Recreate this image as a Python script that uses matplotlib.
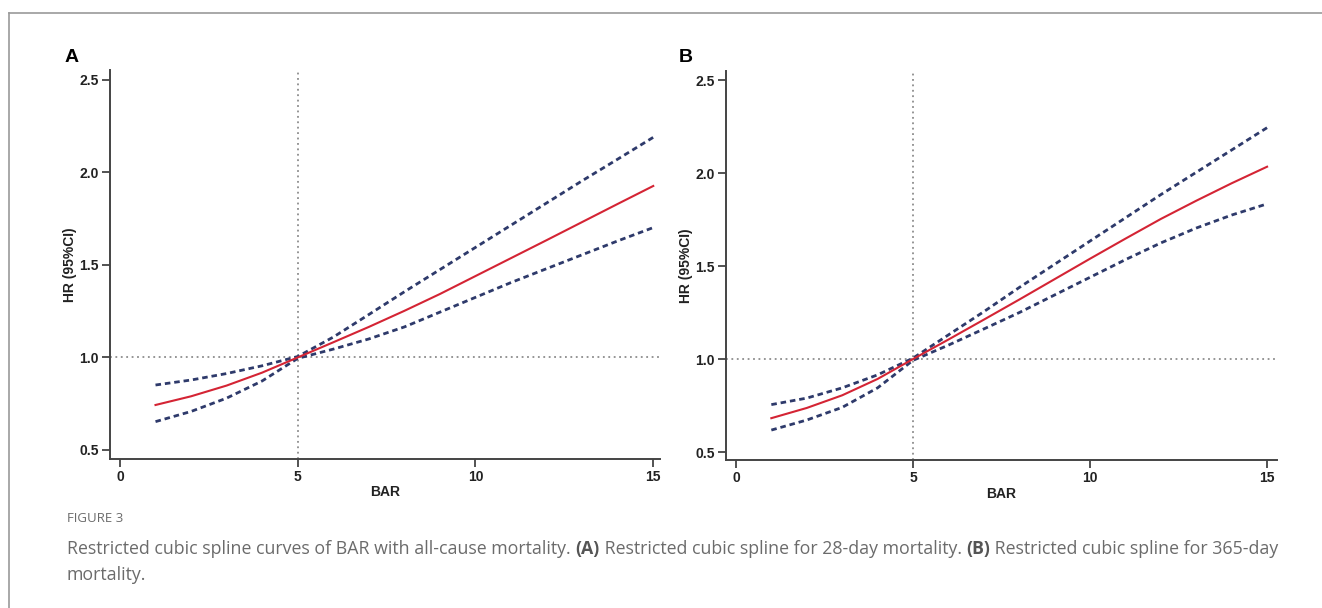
import matplotlib
matplotlib.use('Agg')
import matplotlib.pyplot as plt
from matplotlib.lines import Line2D

# values
bar = [1, 2, 3, 4, 5, 6, 7, 8, 9, 10, 11, 12, 13, 14, 15]

a_hr = [0.743, 0.79, 0.848, 0.918, 1.0, 1.082, 1.165, 1.252, 1.343, 1.44, 1.537, 1.634, 1.732, 1.83, 1.927]
a_hi = [0.851, 0.878, 0.913, 0.955, 1.005, 1.11, 1.232, 1.355, 1.475, 1.595, 1.715, 1.835, 1.955, 2.072, 2.19]
a_lo = [0.653, 0.708, 0.78, 0.873, 0.995, 1.045, 1.1, 1.165, 1.245, 1.325, 1.405, 1.48, 1.555, 1.63, 1.702]

b_hr = [0.682, 0.737, 0.805, 0.893, 1.0, 1.105, 1.212, 1.32, 1.43, 1.54, 1.648, 1.754, 1.852, 1.946, 2.035]
b_hi = [0.755, 0.79, 0.845, 0.915, 1.005, 1.13, 1.255, 1.385, 1.51, 1.635, 1.76, 1.885, 2.005, 2.125, 2.245]
b_lo = [0.618, 0.672, 0.74, 0.845, 0.993, 1.075, 1.162, 1.25, 1.345, 1.44, 1.535, 1.625, 1.705, 1.775, 1.835]

xticks = [0, 5, 10, 15]
yticks = [0.5, 1.0, 1.5, 2.0, 2.5]
ref_x = 5
ref_y = 1.0

W, H = 1322, 608
tick_font = ['Liberation Sans Narrow', 'Liberation Sans', 'DejaVu Sans']
cap_font = ['Open Sans', 'DejaVu Sans']

fig = plt.figure(figsize=(W / 100, H / 100), dpi=100)

# page frame (top and left rule)
fig.add_artist(Line2D([9 / W, 1], [1 - 13 / H, 1 - 13 / H], color='#9a9a9a', lw=1.2))
fig.add_artist(Line2D([9 / W, 9 / W], [0, 1 - 13 / H], color='#9a9a9a', lw=1.2))


def panel(rect, hr, lo, hi, xlim, ylim, letter, letter_x):
    ax = fig.add_axes([rect[0] / W, 1 - rect[3] / H, (rect[2] - rect[0]) / W, (rect[3] - rect[1]) / H])
    ax.axvline(ref_x, color='#8c8c8c', ls=(0, (1, 2)), lw=1.3, zorder=1)
    ax.axhline(ref_y, color='#8c8c8c', ls=(0, (1, 2)), lw=1.3, zorder=1)
    ax.plot(bar, hi, color='#2e3a6b', lw=2.0, ls=(0, (2, 1.4)), zorder=2)
    ax.plot(bar, lo, color='#2e3a6b', lw=2.0, ls=(0, (2, 1.4)), zorder=2)
    ax.plot(bar, hr, color='#d42434', lw=1.5, zorder=3)
    ax.set_xlim(*xlim)
    ax.set_ylim(*ylim)
    ax.set_xticks(xticks)
    ax.set_xticklabels([str(t) for t in xticks], family=tick_font, fontsize=10, fontweight='bold', color='#222222')
    ax.set_yticks(yticks)
    ax.set_yticklabels(['%.1f' % t for t in yticks], family=tick_font, fontsize=10, fontweight='bold', color='#222222')
    for s in ['top', 'right']:
        ax.spines[s].set_visible(False)
    for s in ['left', 'bottom']:
        ax.spines[s].set_color('#444444')
        ax.spines[s].set_linewidth(1.4)
    ax.tick_params(direction='out', length=6, width=1.3, color='#444444', pad=2)
    ax.set_xlabel('BAR', family=tick_font, fontsize=10, fontweight='bold', color='#222222', labelpad=1)
    ax.set_ylabel('HR (95%CI)', family=tick_font, fontsize=10, fontweight='bold', color='#222222', labelpad=2)
    fig.text(letter_x / W, 1 - 58 / H, letter, family=['Liberation Sans', 'DejaVu Sans'], fontsize=14,
             fontweight='bold', va='center', ha='left')
    return ax


panel((110, 70, 660, 459), a_hr, a_lo, a_hi, (-0.28, 15.19), (0.451, 2.554), 'A', 65)
panel((726, 71, 1277, 460), b_hr, b_lo, b_hi, (-0.28, 15.28), (0.457, 2.55), 'B', 679)

# caption
fig.text(67 / W, 1 - 518 / H, 'FIGURE 3', family=cap_font, fontsize=9.5, color='#6b6b6b', va='center')

renderer = fig.canvas.get_renderer()


def caption_line(parts, y_px):
    x = 67
    for txt, bold in parts:
        t = fig.text(x / W, 1 - y_px / H, txt, family=cap_font, fontsize=12.75,
                     fontweight='bold' if bold else 'normal',
                     color='#555555' if bold else '#6b6b6b', va='center', ha='left')
        bb = t.get_window_extent(renderer=renderer)
        x += bb.width


caption_line([('Restricted cubic spline curves of BAR with all-cause mortality. ', False),
              ('(A)', True),
              (' Restricted cubic spline for 28-day mortality. ', False),
              ('(B)', True),
              (' Restricted cubic spline for 365-day', False)], 549)
caption_line([('mortality.', False)], 575)

fig.savefig('out.png', dpi=100)
